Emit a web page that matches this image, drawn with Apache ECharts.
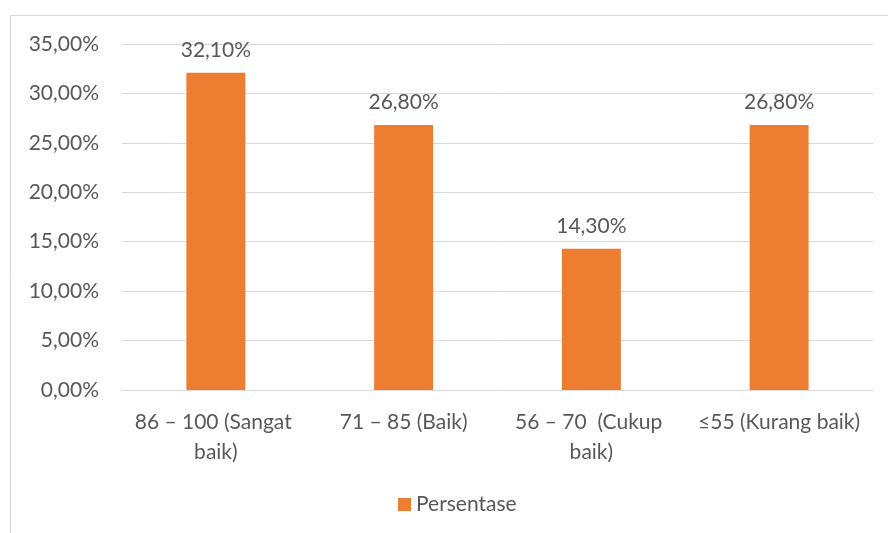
<!DOCTYPE html>
<html>
<head>
<meta charset="utf-8">
<script src="https://cdn.jsdelivr.net/npm/echarts@6/dist/echarts.min.js"></script>
<style>
  html, body { margin: 0; padding: 0; background: #fff; }
  #chart { width: 888px; height: 533px; }
</style>
</head>
<body>
<div id="chart"></div>
<script>
// Score bands and share of respondents in each band (percent)
const categories = ['86 – 100 (Sangat baik)', '71 – 85 (Baik)', '56 – 70  (Cukup baik)', '≤55 (Kurang baik)'];
const persentase = [32.1, 26.8, 14.3, 26.8];
const seriesName = 'Persentase';

const FONT = 'Lato, "Open Sans", sans-serif';
const TEXT = '#595959';
const FS = 21;

function pct(v) {
  return v.toFixed(2).replace('.', ',') + '%';
}

const chart = echarts.init(document.getElementById('chart'), null, { renderer: 'canvas' });
chart.setOption({
  animation: false,
  backgroundColor: '#ffffff',
  textStyle: { fontFamily: FONT },
  graphic: [{
    type: 'rect',
    shape: { x: 10.5, y: 15.5, width: 900, height: 560 },
    style: { fill: 'none', stroke: '#d9d9d9', lineWidth: 1 },
    silent: true
  }],
  grid: { left: 122, right: 15, top: 44, bottom: 143 },
  legend: {
    data: [seriesName],
    bottom: 18,
    left: 398,
    padding: 0,
    icon: 'rect',
    itemWidth: 13,
    itemHeight: 13,
    itemGap: 5,
    textStyle: { color: TEXT, fontSize: FS, fontFamily: FONT, padding: [0, 0, 0, 0] }
  },
  xAxis: {
    type: 'category',
    data: categories,
    axisLine: { show: true, lineStyle: { color: '#d9d9d9', width: 1 } },
    axisTick: { show: false },
    axisLabel: {
      color: TEXT,
      fontSize: FS,
      fontFamily: FONT,
      margin: 17,
      lineHeight: 30,
      width: 180,
      overflow: 'break',
      interval: 0
    }
  },
  yAxis: {
    type: 'value',
    min: 0,
    max: 35,
    interval: 5,
    axisLine: { show: false },
    axisTick: { show: false },
    splitLine: { lineStyle: { color: '#d9d9d9', width: 1 } },
    axisLabel: {
      color: TEXT,
      fontSize: FS,
      fontFamily: FONT,
      margin: 23,
      formatter: pct
    }
  },
  series: [{
    name: seriesName,
    type: 'bar',
    data: persentase,
    barWidth: '31.4%',
    itemStyle: { color: '#ED7D31' },
    label: {
      show: true,
      position: 'top',
      distance: 12,
      color: TEXT,
      fontSize: FS,
      fontFamily: FONT,
      formatter: p => pct(p.value)
    }
  }]
});
</script>
</body>
</html>
